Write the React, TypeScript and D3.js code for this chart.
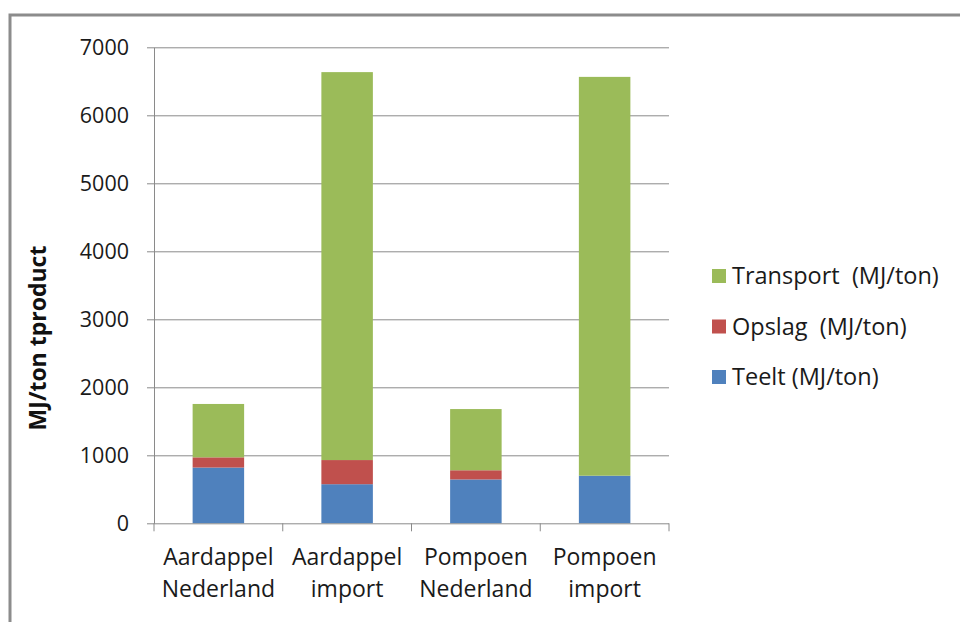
import * as d3 from "d3";
import { useEffect, useRef } from "react";

const categories = ["Aardappel\nNederland", "Aardappel\nimport", "Pompoen\nNederland", "Pompoen\nimport"];
const seriesNames = ["Teelt (MJ/ton)", "Opslag  (MJ/ton)", "Transport  (MJ/ton)"];
const seriesColors = ["#4F81BD", "#C0504D", "#9BBB59"];
const teelt = [820, 575, 645, 700];
const opslag = [150, 355, 135, 0];
const transport = [785, 5705, 900, 5865];
const yTicks = [0, 1000, 2000, 3000, 4000, 5000, 6000, 7000];

const App = () => {
  const ref = useRef<SVGSVGElement>(null);

  useEffect(() => {
    const svg = d3.select(ref.current);
    svg.selectAll("*").remove();

    const margin = { top: 47.3, left: 154, right: 291, bottom: 98.7 };
    const W = 960, H = 622;
    const width = W - margin.left - margin.right;
    const height = H - margin.top - margin.bottom;
    const font = "'Open Sans', Lato, sans-serif";

    // outer frame
    svg.append("rect")
      .attr("x", 10).attr("y", 15)
      .attr("width", 1000).attr("height", 700)
      .attr("fill", "white")
      .attr("stroke", "#8c8c8c")
      .attr("stroke-width", 3);

    const xScale = d3.scaleBand().domain(categories).range([0, width]).paddingInner(0.6).paddingOuter(0.3);
    const yScale = d3.scaleLinear().domain([0, 7000]).range([height, 0]);

    const g = svg.append("g").attr("transform", `translate(${margin.left},${margin.top})`);

    // grid
    g.append("g")
      .selectAll("line")
      .data(yTicks.filter(d => d > 0))
      .join("line")
      .attr("x1", 0).attr("x2", width)
      .attr("y1", d => Math.round(yScale(d)) + 0.5)
      .attr("y2", d => Math.round(yScale(d)) + 0.5)
      .attr("stroke", "#8a8a8a")
      .attr("stroke-width", 1);

    // stacked bars
    const rows = categories.map((c, i) => ({ cat: c, teelt: teelt[i], opslag: opslag[i], transport: transport[i] }));
    const stack = d3.stack<any>().keys(["teelt", "opslag", "transport"]);
    const layers = stack(rows);

    g.selectAll("g.layer")
      .data(layers)
      .join("g")
      .attr("class", "layer")
      .attr("fill", (_, i) => seriesColors[i])
      .selectAll("rect")
      .data(d => d)
      .join("rect")
      .attr("x", d => xScale(d.data.cat)!)
      .attr("width", xScale.bandwidth())
      .attr("y", d => yScale(d[1]))
      .attr("height", d => Math.max(0, yScale(d[0]) - yScale(d[1])));

    // y axis
    const yAxis = g.append("g")
      .call(d3.axisLeft(yScale).tickValues(yTicks).tickSize(7).tickSizeOuter(0).tickPadding(18).tickFormat(d3.format("d")));
    yAxis.select(".domain").attr("stroke", "#8a8a8a");
    yAxis.selectAll(".tick line").attr("stroke", "#8a8a8a");
    yAxis.selectAll("text").attr("font-family", font).attr("font-size", 21.5).attr("fill", "#1a1a1a");

    // x axis
    const xAxisG = g.append("g").attr("transform", `translate(0,${height})`);
    xAxisG.append("line").attr("x1", 0).attr("x2", width).attr("y1", 0.5).attr("y2", 0.5).attr("stroke", "#8a8a8a");
    const step = width / categories.length;
    xAxisG.selectAll("line.tk")
      .data(d3.range(categories.length + 1))
      .join("line")
      .attr("class", "tk")
      .attr("x1", d => d * step).attr("x2", d => d * step)
      .attr("y1", 0).attr("y2", 8)
      .attr("stroke", "#8a8a8a");

    const labels = xAxisG.selectAll("text.cat")
      .data(categories)
      .join("text")
      .attr("class", "cat")
      .attr("text-anchor", "middle")
      .attr("font-family", font)
      .attr("font-size", 23)
      .attr("fill", "#1a1a1a")
      .attr("x", d => xScale(d)! + xScale.bandwidth() / 2);
    labels.selectAll("tspan")
      .data(d => d.split("\n"))
      .join("tspan")
      .attr("x", function () { return (this.parentNode as SVGTextElement).getAttribute("x"); })
      .attr("y", (_, i) => 42 + i * 32)
      .text(d => d);

    // y title
    svg.append("text")
      .attr("transform", `translate(46,338) rotate(-90)`)
      .attr("text-anchor", "middle")
      .attr("font-family", font)
      .attr("font-weight", "bold")
      .attr("font-size", 23)
      .attr("fill", "#111")
      .text("MJ/ton tproduct");

    // legend
    const legendOrder = [2, 1, 0];
    const legend = svg.append("g").attr("transform", "translate(712,276)");
    legendOrder.forEach((si, i) => {
      const row = legend.append("g").attr("transform", `translate(0,${i * 50.5})`);
      row.append("rect").attr("x", 0).attr("y", -7).attr("width", 14).attr("height", 14).attr("fill", seriesColors[si]);
      row.append("text")
        .attr("x", 20).attr("y", 0).attr("dy", "0.35em")
        .attr("font-family", font).attr("font-size", 23.5).attr("fill", "#1a1a1a")
        .attr("xml:space", "preserve")
        .style("white-space", "pre")
        .text(seriesNames[si]);
    });
  }, []);

  return (
    <div style={{ position: "absolute", left: 0, top: 0 }}>
      <svg ref={ref} width={960} height={622} style={{ display: "block" }} />
    </div>
  );
};

export default App;
